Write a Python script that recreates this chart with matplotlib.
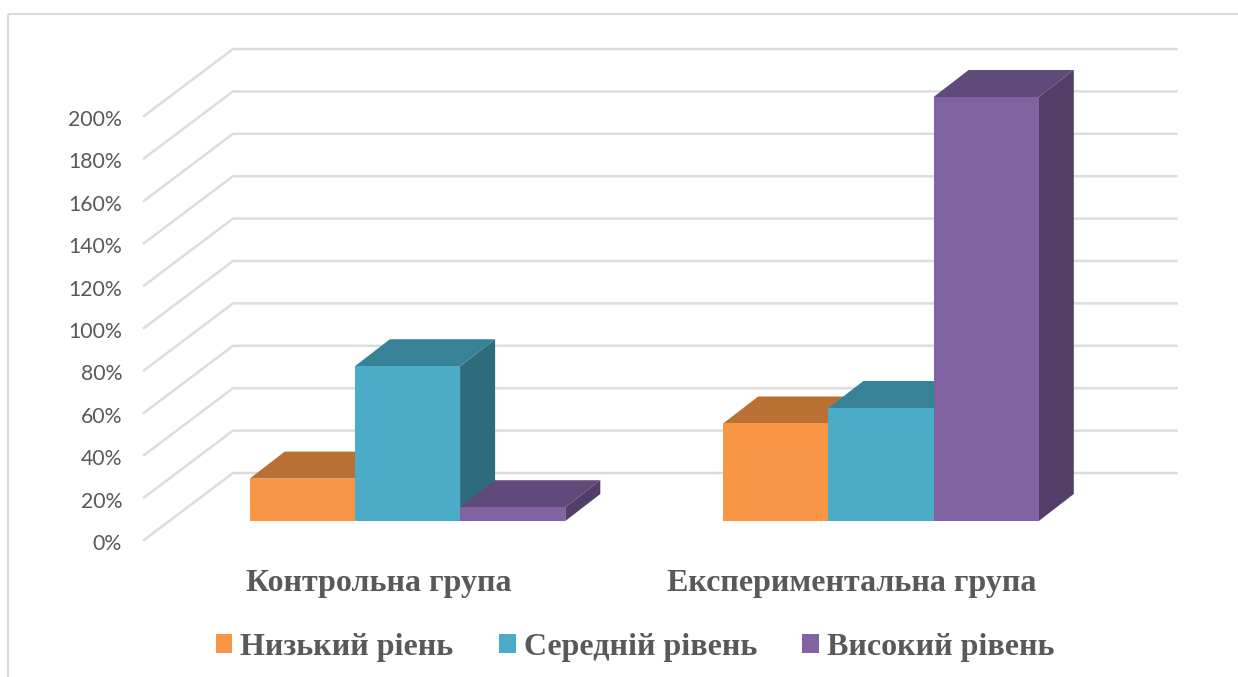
import matplotlib
matplotlib.use('Agg')
import matplotlib.pyplot as plt
from matplotlib.patches import Polygon, Rectangle

groups = ['Контрольна група', 'Експериментальна група']
series = ['Низький ріень', 'Середній рівень', 'Високий рівень']
low = [20, 46]
mid = [73, 53.3]
high = [6.5, 200]
ticks = list(range(0, 201, 20))

front_colors = ['#F99645', '#4AACC6', '#8063A0']
top_colors = ['#BA7033', '#388298', '#604A7A']
side_colors = ['#8F5626', '#306B7B', '#523E66']
grid_color = '#DDDDDD'
text_color = '#595959'

W, H = 1238, 677
# scale of the bar plane in pixels
px_group = 473.5
px_pct = 2.12
x_origin = 407.5
y_origin = 521
bar_w = 105.2 / px_group

# depth of a bar, and where the floor starts and ends, in data units
dep_x = 35 / px_group
dep_y = 27 / px_pct
floor_front_x = -263.5 / px_group
floor_front_y = -19 / px_pct
floor_back_x = -174.5 / px_group
floor_back_y = 48 / px_pct
wall_right = 769 / px_group

fig = plt.figure(figsize=(W / 100, H / 100), dpi=100)
ax = fig.add_axes([0, 0, 1, 1])
ax.set_xlim(-x_origin / px_group, (W - x_origin) / px_group)
ax.set_ylim(-(H - y_origin) / px_pct, y_origin / px_pct)
ax.axis('off')

# chart border
ax.plot([-400 / px_group, -400 / px_group], [-(H - y_origin) / px_pct, 507 / px_pct],
        color='#DADADA', lw=1.5, zorder=1, solid_capstyle='butt')
ax.plot([-400 / px_group, (W - x_origin) / px_group], [507 / px_pct, 507 / px_pct],
        color='#DADADA', lw=1.5, zorder=1, solid_capstyle='butt')

# gridlines on side wall and back wall
for t in ticks:
    ax.plot([floor_front_x, floor_back_x, wall_right],
            [floor_front_y + t, floor_back_y + t, floor_back_y + t],
            color=grid_color, lw=1.8, zorder=2, solid_joinstyle='miter')
    ax.text(floor_front_x - 22 / px_group, floor_front_y + t - 2 / px_pct, f'{t}%', ha='right', va='center_baseline',
            fontsize=15.3, family='Lato', color=text_color)


def draw_bar(x, v, k, z):
    x2 = x + bar_w
    ax.add_patch(Polygon([(x2, 0), (x2 + dep_x, dep_y), (x2 + dep_x, v + dep_y), (x2, v)],
                         fc=side_colors[k], ec='none', zorder=z))
    ax.add_patch(Polygon([(x, v), (x + dep_x, v + dep_y), (x2 + dep_x, v + dep_y), (x2, v)],
                         fc=top_colors[k], ec='none', zorder=z))
    ax.add_patch(Polygon([(x, 0), (x2, 0), (x2, v), (x, v)],
                         fc=front_colors[k], ec='none', zorder=z + 0.5))


values = [low, mid, high]
for g in range(len(groups)):
    for k in range(3):
        draw_bar(g + (k - 1.5) * bar_w, values[k][g], k, 3 + k)
    ax.text(g - 29 / px_group, -62 / px_pct, groups[g], ha='center', va='center',
            fontsize=23, family='Liberation Serif', fontweight='bold', color=text_color)

handles = [Rectangle((0, 0), 1, 1, fc=c, ec='none') for c in front_colors]
leg = ax.legend(handles, series, ncol=3, loc='center',
                bbox_to_anchor=(635 / W, 1 - 647.5 / H), bbox_transform=fig.transFigure,
                frameon=False, handlelength=0.53, handleheight=0.53, handletextpad=0.25,
                columnspacing=1.41, borderpad=0, borderaxespad=0,
                prop={'family': 'Liberation Serif', 'weight': 'bold', 'size': 23})
for txt in leg.get_texts():
    txt.set_color(text_color)

fig.savefig('out.png', dpi=100)
